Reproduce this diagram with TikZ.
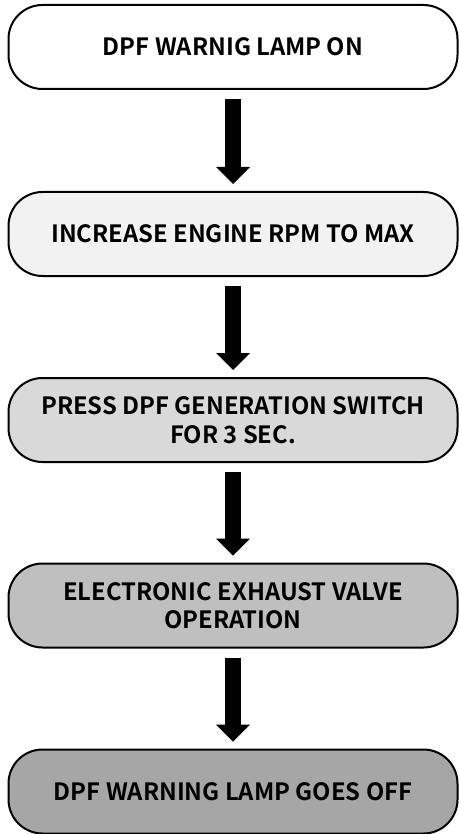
\documentclass[tikz,border=0pt]{standalone}
\usepackage{fontspec}
\setmainfont{Noto Sans CJK KR}[BoldFont={Noto Sans CJK KR Bold}]
\usepackage{tikz}
\usetikzlibrary{arrows.meta,positioning}
\definecolor{stepgrayA}{gray}{1.00}
\definecolor{stepgrayB}{gray}{0.95}
\definecolor{stepgrayC}{gray}{0.85}
\definecolor{stepgrayD}{gray}{0.75}
\definecolor{stepgrayE}{gray}{0.65}

\tikzset{
  stepbox/.style={draw=black, line width=1pt, rectangle, rounded corners=17pt,
    minimum width=224.5pt, minimum height=42pt, inner sep=0pt, align=center,
    font=\fontsize{11.9}{14.2}\selectfont\bfseries},
  flowarrow/.style={line width=8pt,
    -{Triangle[width=17pt,length=8.5pt,line width=0pt]},
    shorten <=4.5pt, shorten >=3.5pt}
}

\begin{document}
\begin{tikzpicture}[x=0.5pt, y=-0.5pt]
        \useasboundingbox (0,0) rectangle (459,834);

        % Steps
        \node[stepbox, fill=stepgrayA] (lampon) at (233, 47) {DPF WARNIG LAMP ON};
        \node[stepbox, fill=stepgrayB] (rpm) at (233, 234) {INCREASE ENGINE RPM TO MAX};
        \node[stepbox, fill=stepgrayC] (switch) at (233, 420) {PRESS DPF GENERATION SWITCH\\FOR 3 SEC.};
        \node[stepbox, fill=stepgrayD] (valve) at (233, 605.5) {ELECTRONIC EXHAUST VALVE\\OPERATION};
        \node[stepbox, fill=stepgrayE] (lampoff) at (233, 791.5) {DPF WARNING LAMP GOES OFF};

        % Arrows
        \draw[flowarrow] (lampon) -- (rpm);
        \draw[flowarrow] (rpm) -- (switch);
        \draw[flowarrow] (switch) -- (valve);
        \draw[flowarrow] (valve) -- (lampoff);
    \end{tikzpicture}
\end{document}
